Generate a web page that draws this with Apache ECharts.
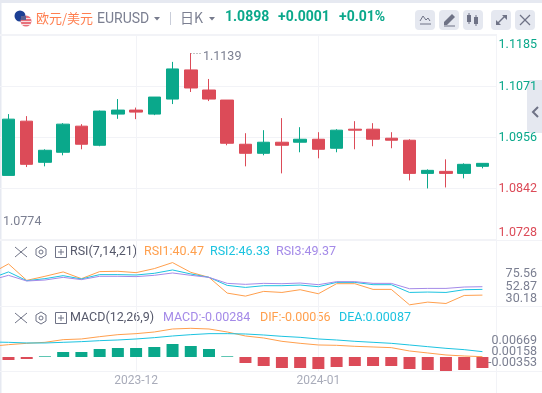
<!DOCTYPE html>
<html><head><meta charset="utf-8">
<style>html,body{margin:0;padding:0;background:#fff;overflow:hidden}#c{width:542px;height:393px}</style>
<script src="https://cdn.jsdelivr.net/npm/echarts@6/dist/echarts.min.js"></script>
</head><body><div id="c"></div>
<script>
// Candles: open, close, low, high
const candles = [
[1.08716,1.09976,1.08716,1.10089],[1.09931,1.08964,1.08903,1.10044],[1.09009,1.09279,1.08919,1.09301],
[1.09234,1.09864,1.09166,1.09886],[1.09819,1.09414,1.09301,1.09864],[1.09391,1.10156,1.09369,1.10168],
[1.10089,1.10179,1.09983,1.10426],[1.10179,1.10134,1.09976,1.10235],[1.10089,1.10471,1.10066,1.10471],
[1.10426,1.11101,1.10314,1.11259],[1.11079,1.10674,1.10584,1.11455],[1.10629,1.10426,1.10381,1.10876],
[1.10404,1.09436,1.09391,1.10404],[1.09414,1.09211,1.08919,1.09661],[1.09211,1.09459,1.09166,1.09729],
[1.09459,1.09391,1.08761,1.09999],[1.09459,1.09526,1.09234,1.09796],[1.09526,1.09301,1.09099,1.09684],
[1.09324,1.09729,1.09234,1.09751],[1.09751,1.09729,1.09301,1.09931],[1.09751,1.09526,1.09369,1.09886],
[1.09549,1.09504,1.09324,1.09684],[1.09504,1.08761,1.08604,1.09526],[1.08761,1.08829,1.08424,1.08851],
[1.08806,1.08761,1.08446,1.09076],[1.08761,1.08964,1.08649,1.08986],[1.08919,1.08986,1.08874,1.08986]];
// Indicator lines start one session before the first visible candle
const rsi1 = [76.2,94.6,64.5,71.9,79.9,67.6,80.5,81.1,78.6,86.0,97.0,79.2,70.0,41.2,35.7,44.3,42.4,47.4,40.0,58.4,58.4,48.0,48.0,19.8,24.7,22.2,36.9,37.5];
const rsi2 = [67.6,79.9,63.9,67.6,73.1,67.0,75.0,75.0,74.3,77.4,83.5,76.2,70.0,55.3,51.6,54.7,54.7,55.9,52.9,60.8,60.8,56.6,56.6,42.4,43.1,42.4,47.4,48.0];
const rsi3 = [64.5,73.7,63.3,65.1,70.0,65.8,71.9,71.9,71.3,73.7,78.0,73.7,70.0,59.0,57.2,59.0,58.4,59.6,56.6,62.1,62.1,59.0,59.0,49.2,49.8,49.8,52.3,52.9];
const dif = [.00407,.00485,.00547,.00594,.00718,.00749,.00857,.00950,.00997,.01074,.01214,.01245,.01214,.01074,.00888,.00795,.00640,.00547,.00470,.00454,.00408,.00377,.00346,.00191,.00098,.00005,-.00042,-.00073];
const dea = [.00609,.00594,.00563,.00563,.00594,.00625,.00671,.00702,.00749,.00811,.00888,.00950,.00997,.00997,.00981,.00935,.00873,.00826,.00749,.00702,.00640,.00594,.00547,.00470,.00392,.00315,.00253,.00160];
const macd = [-.00077,-.00052,.00017,.00129,.00129,.00206,.00232,.00232,.00258,.00335,.00284,.00206,.00017,-.00155,-.00232,-.00284,-.00284,-.00310,-.00258,-.00232,-.00232,-.00232,-.00310,-.00335,-.00361,-.00335,-.00284];
const priceTicks = [1.0728,1.0842,1.0956,1.1071,1.1185];
const rsiTicks = [30.18,52.87,75.56];
const macdTicks = [-0.00353,0.00158,0.00669];
const dateTicks = {7:'2023-12',17:'2024-01'};
const lastPrice = 1.0898;

const GREEN='#0aa88b',RED='#dc4b58',ORANGE='#ff9f4d',CYAN='#1cc3e0',PURPLE='#a48ae8',GRAY='#7b7f91',LINE='#f2f3f7',ICON='#6f7386',BTN='#e5e8f0';
const CJK='"Noto Sans CJK SC","Noto Sans"',LAT='Roboto,"Noto Sans CJK SC"';

const idx = candles.map((_,i)=>i);
const lineData = a => a.map((v,i)=>[i-1,v]);
const xMin=-0.466,xMax=26.8;
const dateVals=Object.keys(dateTicks).map(Number);
const MACD_MIN=-.0074,MACD_MAX=.02283;

function xAxis(gridIndex,showLabels){return {
  type:'value',gridIndex,min:xMin,max:xMax,
  axisLine:{show:false},
  axisTick:{show:false,customValues:dateVals},
  splitLine:{show:true,lineStyle:{color:LINE,width:1}},
  axisLabel:{show:showLabels,customValues:dateVals,formatter:v=>dateTicks[v]||'',color:'#a9acba',fontSize:12,fontFamily:LAT,margin:4,hideOverlap:false,showMinLabel:true,showMaxLabel:true}
};}
function yAxis(gridIndex,min,max,ticks,fmt,opts){return Object.assign({
  type:'value',gridIndex,min,max,position:'right',
  axisLine:{show:false},
  axisTick:{show:false,customValues:ticks},
  splitLine:{show:false},
  axisLabel:{customValues:ticks,formatter:fmt,color:GRAY,fontSize:12.5,fontFamily:LAT,align:'right',margin:40,padding:[3,0,0,0],showMinLabel:true,showMaxLabel:true,hideOverlap:false}
},opts||{});}

function btn(x,w){return {type:'rect',shape:{x,y:10,width:w||20,height:20,r:4},style:{fill:BTN},silent:true};}
function txt(x,y,text,fill,size,opts){return {type:'text',x,y,silent:true,style:Object.assign({text,fill,font:size+'px '+LAT,textVerticalAlign:'middle'},opts||{})};}
function ln(x1,y1,x2,y2,c,w,dash){return {type:'line',silent:true,shape:{x1,y1,x2,y2},style:{stroke:c||ICON,lineWidth:w||1,lineDash:dash||null}};}
function tri(x,y){return {type:'polygon',silent:true,shape:{points:[[x,y],[x+6,y],[x+3,y+3.5]]},style:{fill:'#777b8d'}};}
function indicatorHead(y){return [
  ln(15,y-5,27,y+5,ICON,1),ln(27,y-5,15,y+5,ICON,1),
  {type:'polygon',silent:true,shape:{points:[[41,y-6],[46,y-3],[46,y+3],[41,y+6],[36,y+3],[36,y-3]]},style:{fill:'none',stroke:ICON,lineWidth:1}},
  {type:'circle',silent:true,shape:{cx:41,cy:y,r:2},style:{fill:'none',stroke:ICON,lineWidth:1}},
  {type:'rect',silent:true,shape:{x:55.5,y:y-5.5,width:11,height:11},style:{fill:'none',stroke:ICON,lineWidth:1}},
  ln(58,y,64,y,ICON,1),ln(61,y-3,61,y+3,ICON,1)
];}

const graphic=[
  {type:'rect',silent:true,shape:{x:0,y:0,width:542,height:3},style:{fill:'#e6e9f1'}},
  {type:'rect',silent:true,shape:{x:0,y:0,width:1.5,height:393},style:{fill:'#e6e9f1'}},
  ln(0,34.5,497,34.5,LINE,1),
  ln(496.5,35,496.5,393,LINE,1),
  ln(0,240.5,542,240.5,LINE,1),
  ln(0,306.5,542,306.5,LINE,1),
  ln(0,371.5,542,371.5,LINE,1),
  // flag
  {type:'circle',silent:true,shape:{cx:20,cy:16,r:5.5},style:{fill:'#1c3f94'}},
  {type:'circle',silent:true,shape:{cx:26,cy:21,r:5.5},style:{fill:'#e8707a'}},
  ln(21,18.5,31,18.5,'#f6e0e2',1),ln(21,21.5,31,21.5,'#f6e0e2',1),ln(22,24.5,30,24.5,'#f6e0e2',1),
  {type:'rect',silent:true,shape:{x:21,y:16,width:5,height:4},style:{fill:'#5a5f90'}},
  txt(36,18,'欧元/美元','#ff7f50',13,{font:'13px '+CJK}),
  txt(97,19,'EURUSD',GRAY,14),
  tri(154,17),
  ln(170.5,12,170.5,25,'#c9cdd9',1),
  txt(180,17.5,'日K',GRAY,14,{font:'14px '+CJK}),
  tri(209,17),
  txt(225,17.5,'1.0898',GREEN,14,{font:'bold 14px '+LAT}),
  txt(278,17.5,'+0.0001',GREEN,14,{font:'bold 14px '+LAT}),
  txt(339,17.5,'+0.01%',GREEN,14,{font:'bold 14px '+LAT}),
  btn(415),btn(439),btn(463),btn(491),btn(515),
  // indicator button
  {type:'polyline',silent:true,shape:{points:[[420,21],[423,16],[426,20],[428,18],[430,21]]},style:{stroke:ICON,fill:'none',lineWidth:1}},
  ln(420,24,431,24,ICON,1),
  // pen button
  {type:'polygon',silent:true,shape:{points:[[444,22],[452,14],[455,17],[447,25],[444,25]]},style:{fill:ICON}},
  ln(444,26,455,26,ICON,1),
  // candle button
  {type:'rect',silent:true,shape:{x:467,y:15,width:4,height:7},style:{fill:ICON}},ln(469,13,469,24,ICON,1),
  {type:'rect',silent:true,shape:{x:474,y:17,width:4,height:7},style:{fill:ICON}},ln(476,15,476,26,ICON,1),
  // expand
  ln(497,24,505,16,ICON,1.5),
  {type:'polygon',silent:true,shape:{points:[[502,15],[507,15],[507,20]]},style:{fill:ICON}},
  {type:'polygon',silent:true,shape:{points:[[496,20],[496,25],[501,25]]},style:{fill:ICON}},
  // close
  ln(520,15,530,25,ICON,1.2),ln(530,15,520,25,ICON,1.2),
  // side tab
  {type:'rect',silent:true,shape:{x:527,y:80,width:15,height:53,r:[4,0,0,4]},style:{fill:BTN}},
  {type:'polyline',silent:true,shape:{points:[[538,107],[533,112],[538,117]]},style:{stroke:ICON,fill:'none',lineWidth:2}},
  // value notes
  ln(190.5,53.5,201,53.5,'#888',1,[1,2]),
  txt(203,56.5,'1.1139',GRAY,12.5),
  txt(3,222,'1.0774',GRAY,12.5),
  // indicator legends
  ...indicatorHead(252),
  txt(70,252,'RSI(7,14,21)','#55586a',12.5),
  txt(144,252,'RSI1:40.47',ORANGE,12.5),
  txt(210,252,'RSI2:46.33',CYAN,12.5),
  txt(276,252,'RSI3:49.37',PURPLE,12.5),
  ...indicatorHead(318),
  txt(70,318,'MACD(12,26,9)','#55586a',12.5),
  txt(163,318,'MACD:-0.00284',PURPLE,12.5),
  txt(260,318,'DIF:-0.00056',ORANGE,12.5),
  txt(339,318,'DEA:0.00087',CYAN,12.5)
];

const option={
  animation:false,backgroundColor:'#fff',
  graphic,
  grid:[
    {left:0,right:45,top:35.5,height:204},
    {left:0,right:45,top:240,height:66},
    {left:0,right:45,top:306,height:65},
    {left:0,right:45,top:306,height:65}
  ],
  xAxis:[xAxis(0,false),xAxis(1,false),xAxis(2,true),
    {type:'value',gridIndex:3,min:xMin,max:xMax,show:false}],
  yAxis:[
    yAxis(0,1.0728,1.1185,priceTicks,v=>v.toFixed(4),{
      splitLine:{show:true,lineStyle:{color:LINE,width:1}},
      axisLabel:{customValues:priceTicks,formatter:v=>v.toFixed(4),color:v=>v>=lastPrice?GREEN:RED,fontSize:12.5,fontFamily:LAT,align:'right',margin:40,padding:[3,0,0,0],verticalAlignMaxLabel:'top',verticalAlignMinLabel:'bottom',showMinLabel:true,showMaxLabel:true,hideOverlap:false}
    }),
    yAxis(1,17.6,138.3,rsiTicks,v=>v.toFixed(2)),
    // the unlabelled axis ends are listed so the three close labels are not treated as end labels
    yAxis(2,MACD_MIN,MACD_MAX,[MACD_MIN,...macdTicks,MACD_MAX],v=>macdTicks.includes(v)?v.toFixed(5):''),
    {type:'value',gridIndex:3,min:-.00361,max:.01316,show:false}
  ],
  series:[
    {type:'candlestick',xAxisIndex:0,yAxisIndex:0,barWidth:13,
     data:candles.map((c,i)=>[idx[i],...c]),
     itemStyle:{color:GREEN,color0:RED,borderColor:GREEN,borderColor0:RED,borderWidth:1}},
    {type:'line',name:'RSI1',xAxisIndex:1,yAxisIndex:1,data:lineData(rsi1),symbol:'none',lineStyle:{color:ORANGE,width:1}},
    {type:'line',name:'RSI2',xAxisIndex:1,yAxisIndex:1,data:lineData(rsi2),symbol:'none',lineStyle:{color:CYAN,width:1}},
    {type:'line',name:'RSI3',xAxisIndex:1,yAxisIndex:1,data:lineData(rsi3),symbol:'none',lineStyle:{color:PURPLE,width:1}},
    {type:'bar',name:'MACD',xAxisIndex:3,yAxisIndex:3,barWidth:12,
     data:macd.map((v,i)=>({value:[idx[i],v],itemStyle:{color:v>=0?GREEN:RED}}))},
    {type:'line',name:'DIF',xAxisIndex:2,yAxisIndex:2,data:lineData(dif),symbol:'none',lineStyle:{color:ORANGE,width:1}},
    {type:'line',name:'DEA',xAxisIndex:2,yAxisIndex:2,data:lineData(dea),symbol:'none',lineStyle:{color:CYAN,width:1}}
  ]
};
echarts.init(document.getElementById('c'),null,{renderer:'canvas'}).setOption(option);
</script></body></html>
